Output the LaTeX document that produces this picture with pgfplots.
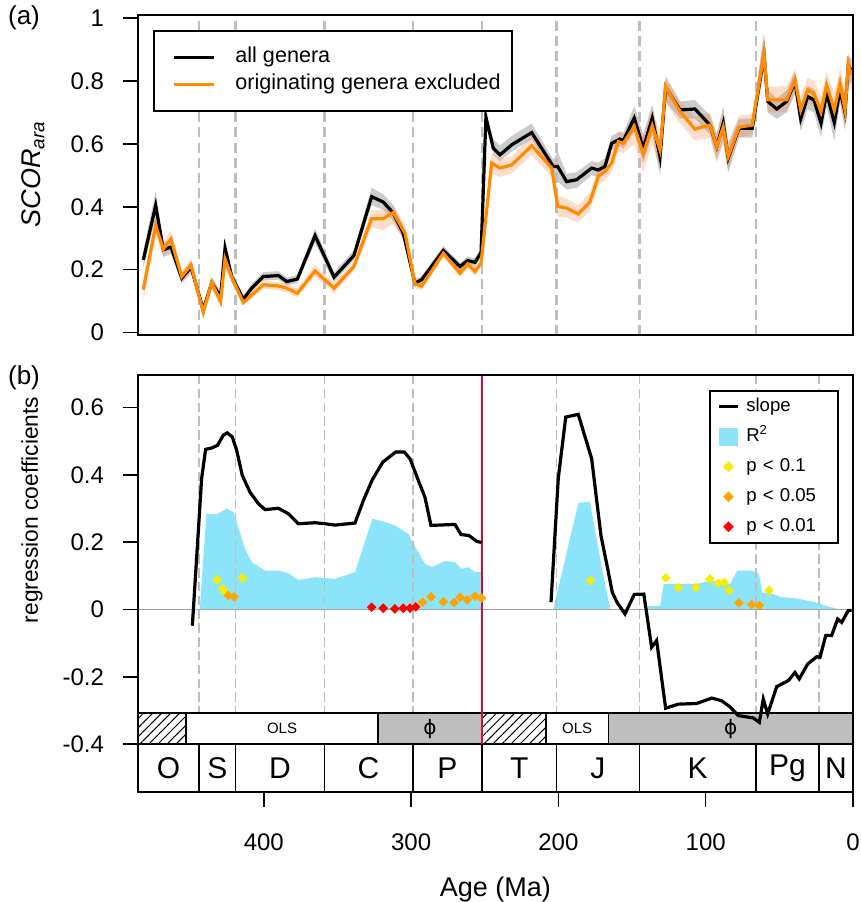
\documentclass[border=0pt]{standalone}
\usepackage{fontspec}
\setmainfont{Liberation Sans}
\newfontfamily\dejavu{DejaVu Sans}
\usepackage{pgfplots}
\pgfplotsset{compat=1.18}
\usepackage{pgfplotstable}
\usepgfplotslibrary{fillbetween}
\usetikzlibrary{patterns.meta}

\definecolor{orangeline}{RGB}{255,140,0}
\definecolor{salmonband}{RGB}{255,120,50}
\definecolor{r2col}{RGB}{139,228,250}
\definecolor{pyel}{RGB}{245,238,0}
\definecolor{porg}{RGB}{255,165,0}
\definecolor{pred}{RGB}{255,0,0}
\definecolor{dashgray}{RGB}{190,190,190}
\definecolor{phigray}{RGB}{190,190,190}
\definecolor{ptline}{RGB}{205,16,58}

\pgfplotstableread{
x y lo hi
481.8 0.231 0.205 0.260
473.4 0.404 0.365 0.450
468.2 0.263 0.240 0.285
463.0 0.272 0.250 0.295
455.7 0.173 0.155 0.190
449.4 0.208 0.190 0.225
441.1 0.072 0.055 0.090
435.4 0.157 0.140 0.175
429.3 0.115 0.095 0.135
426.3 0.268 0.235 0.300
421.8 0.178 0.160 0.195
413.9 0.106 0.095 0.118
408.2 0.141 0.128 0.155
400.3 0.178 0.165 0.192
390.1 0.181 0.168 0.195
384.4 0.162 0.150 0.175
377.2 0.170 0.157 0.183
365.2 0.308 0.285 0.330
352.3 0.176 0.160 0.192
338.8 0.245 0.230 0.262
326.8 0.432 0.405 0.460
318.9 0.415 0.390 0.440
312.1 0.380 0.355 0.405
305.3 0.316 0.295 0.338
297.4 0.157 0.145 0.170
292.8 0.168 0.155 0.180
278.1 0.261 0.248 0.275
266.8 0.210 0.198 0.222
261.6 0.229 0.215 0.242
256.6 0.223 0.210 0.236
252.5 0.255 0.240 0.270
249.2 0.685 0.665 0.700
244.2 0.586 0.565 0.615
239.7 0.565 0.545 0.595
231.7 0.597 0.575 0.625
218.1 0.636 0.615 0.665
203.5 0.528 0.505 0.550
200.5 0.528 0.480 0.575
194.4 0.480 0.455 0.505
187.6 0.486 0.460 0.510
177.4 0.523 0.500 0.545
172.9 0.517 0.495 0.540
168.4 0.528 0.505 0.555
163.8 0.602 0.580 0.625
158.2 0.615 0.592 0.640
155.9 0.610 0.585 0.635
148.5 0.682 0.640 0.720
142.4 0.586 0.540 0.630
136.3 0.682 0.630 0.725
131.0 0.558 0.500 0.600
127.2 0.780 0.735 0.810
117.4 0.708 0.680 0.735
107.3 0.711 0.680 0.740
97.1 0.660 0.630 0.690
92.5 0.591 0.550 0.630
88.1 0.666 0.610 0.720
84.7 0.555 0.510 0.600
77.4 0.650 0.620 0.680
68.4 0.650 0.620 0.680
60.4 0.883 0.840 0.950
57.9 0.735 0.700 0.770
51.8 0.711 0.680 0.745
45.0 0.735 0.700 0.770
39.4 0.798 0.760 0.830
35.5 0.680 0.640 0.720
30.8 0.750 0.710 0.785
26.5 0.740 0.700 0.775
21.7 0.666 0.620 0.710
17.9 0.761 0.720 0.800
12.7 0.668 0.610 0.720
8.8 0.772 0.730 0.810
5.4 0.700 0.640 0.760
3.2 0.851 0.800 0.880
0.9 0.830 0.790 0.870
}\allgen

\pgfplotstableread{
x y lo hi
481.8 0.136 0.100 0.170
473.4 0.340 0.310 0.370
468.2 0.265 0.240 0.290
463.0 0.297 0.270 0.325
455.7 0.178 0.160 0.195
449.4 0.215 0.195 0.235
441.1 0.064 0.050 0.080
435.4 0.159 0.140 0.178
429.3 0.099 0.080 0.120
426.3 0.233 0.200 0.265
421.8 0.176 0.160 0.192
413.9 0.095 0.085 0.105
400.3 0.152 0.140 0.165
390.1 0.148 0.135 0.160
384.4 0.141 0.128 0.155
377.2 0.125 0.112 0.140
365.2 0.196 0.178 0.215
352.3 0.141 0.125 0.158
338.8 0.210 0.195 0.225
326.8 0.362 0.335 0.390
318.9 0.362 0.325 0.390
312.1 0.382 0.345 0.405
304.1 0.316 0.290 0.340
297.4 0.155 0.140 0.170
292.8 0.148 0.135 0.162
278.1 0.252 0.238 0.266
266.8 0.189 0.175 0.203
261.6 0.218 0.204 0.232
256.6 0.194 0.180 0.208
252.5 0.221 0.205 0.237
245.3 0.539 0.505 0.570
239.7 0.523 0.495 0.550
231.7 0.533 0.505 0.560
218.1 0.594 0.565 0.625
204.5 0.523 0.495 0.550
200.5 0.401 0.370 0.435
194.4 0.396 0.365 0.425
186.5 0.377 0.350 0.405
178.6 0.415 0.385 0.445
172.9 0.496 0.470 0.525
168.4 0.512 0.485 0.540
163.8 0.539 0.510 0.570
159.3 0.607 0.575 0.635
155.9 0.602 0.570 0.630
148.5 0.655 0.600 0.700
142.4 0.568 0.510 0.620
136.3 0.657 0.600 0.715
131.0 0.581 0.520 0.630
127.2 0.782 0.730 0.820
117.4 0.703 0.665 0.735
107.3 0.647 0.610 0.685
97.1 0.660 0.620 0.700
92.5 0.591 0.540 0.635
88.1 0.653 0.600 0.710
84.7 0.560 0.510 0.605
77.4 0.653 0.620 0.690
68.4 0.660 0.630 0.695
60.4 0.888 0.830 0.950
57.9 0.740 0.700 0.780
45.0 0.740 0.700 0.785
39.4 0.804 0.760 0.840
35.5 0.708 0.660 0.750
30.8 0.772 0.730 0.810
26.5 0.761 0.720 0.800
21.7 0.703 0.650 0.750
17.9 0.788 0.740 0.830
12.7 0.708 0.650 0.760
8.8 0.793 0.740 0.840
5.4 0.708 0.650 0.770
3.2 0.854 0.800 0.890
0.9 0.819 0.770 0.860
}\origexc

\pgfplotstableread{
x y
448.5 -0.048
442.2 0.389
439.5 0.476
435.4 0.480
431.4 0.488
427.5 0.518
424.8 0.525
421.4 0.513
418.4 0.473
414.6 0.399
409.4 0.349
403.7 0.315
399.2 0.297
390.1 0.301
383.4 0.285
376.6 0.255
365.2 0.258
358.4 0.255
351.7 0.251
338.1 0.257
332.4 0.324
326.3 0.386
319.2 0.438
310.5 0.468
304.6 0.468
300.7 0.448
295.1 0.384
290.6 0.334
286.5 0.250
270.2 0.253
266.1 0.223
260.7 0.220
255.5 0.203
252.1 0.199
}\slopeA

\pgfplotstableread{
x y
205.0 0.022
200.1 0.389
195.0 0.572
186.5 0.580
177.4 0.448
171.1 0.220
167.2 0.136
163.4 0.051
160.0 0.020
154.8 -0.013
148.5 0.045
142.0 0.046
136.7 -0.112
133.3 -0.092
127.2 -0.293
118.6 -0.281
106.1 -0.279
95.9 -0.263
89.1 -0.271
83.5 -0.289
77.9 -0.315
67.7 -0.322
63.6 -0.335
60.9 -0.266
57.9 -0.310
51.8 -0.229
43.9 -0.211
39.4 -0.187
36.5 -0.206
30.8 -0.162
24.6 -0.140
22.4 -0.142
18.5 -0.077
14.5 -0.077
10.4 -0.028
7.7 -0.038
3.2 -0.003
0.9 -0.003
}\slopeB

\begin{document}
\begin{tikzpicture}[x=1pt,y=1pt]

% ---------------- panel (a)
\begin{axis}[
  at={(69pt,283.5pt)}, anchor=south west,
  scale only axis, width=357.5pt, height=160pt,
  x dir=reverse, xmin=0, xmax=485.4, ymin=-0.008, ymax=1.01,
  xtick=\empty,
  ytick={0,0.2,0.4,0.6,0.8,1}, yticklabels={0,0.2,0.4,0.6,0.8,1},
  ytick pos=left, tick align=outside, major tick length=7.5pt,
  tick style={black, line width=0.8pt}, axis line style={line width=0.8pt},
  yticklabel style={font=\fontsize{12}{14}\selectfont, xshift=-6pt},
  axis on top,
  legend cell align=left,
  legend image code/.code={\path (0pt,0pt); \draw[#1] (5.5pt,0pt) -- (25.5pt,0pt);},
  legend style={at={(axis description cs:0.021,0.953)}, anchor=north west,
    draw=black, line width=0.8pt, fill=white,
    inner xsep=4pt, inner ysep=6.5pt, row sep=0pt,
    font=\fontsize{10.8}{13}\selectfont,
    nodes={inner sep=1.5pt, text height=8pt, text depth=2.5pt},
    /tikz/every odd column/.append style={column sep=8.2pt}},
]
\addlegendimage{black, line width=1.6pt}
\addlegendentry{all genera}
\addlegendimage{orangeline, line width=1.6pt}
\addlegendentry{originating genera excluded}

\pgfplotsinvokeforeach{443.8,419.2,358.9,298.9,251.9,201.3,145,66}{
  \draw[dashgray, line width=1.2pt, dash pattern=on 5pt off 2.6pt] (axis cs:#1,-0.008) -- (axis cs:#1,1.01);
}

\addplot[name path=ahi, draw=none, forget plot] table[x=x,y=hi]{\allgen};
\addplot[name path=alo, draw=none, forget plot] table[x=x,y=lo]{\allgen};
\addplot[fill=black, fill opacity=0.2, draw=none, forget plot] fill between[of=ahi and alo];
\addplot[black, line width=1.6pt, forget plot] table[x=x,y=y]{\allgen};

\addplot[name path=ohi, draw=none, forget plot] table[x=x,y=hi]{\origexc};
\addplot[name path=olo, draw=none, forget plot] table[x=x,y=lo]{\origexc};
\addplot[fill=salmonband, fill opacity=0.25, draw=none, forget plot] fill between[of=ohi and olo];
\addplot[orangeline, line width=1.6pt, forget plot] table[x=x,y=y]{\origexc};
\end{axis}

% ---------------- panel (b)
\begin{axis}[
  at={(69pt,55pt)}, anchor=south west,
  scale only axis, width=357.5pt, height=208.5pt,
  x dir=reverse, xmin=0, xmax=485.4, ymin=-0.542, ymax=0.697,
  xtick={0,100,200,300,400}, xticklabels={0,100,200,300,400},
  ytick={-0.4,-0.2,0,0.2,0.4,0.6}, yticklabels={-0.4,-0.2,0,0.2,0.4,0.6},
  xtick pos=left, ytick pos=left, tick align=outside, major tick length=7.5pt,
  tick style={black, line width=0.8pt}, axis line style={line width=0.8pt},
  yticklabel style={font=\fontsize{12}{14}\selectfont, xshift=-6pt},
  xticklabel style={font=\fontsize{12}{14}\selectfont, yshift=-10pt},
  xlabel={Age (Ma)},
  xlabel style={font=\fontsize{13.5}{15}\selectfont, at={(axis description cs:0.5,0)}, anchor=center, yshift=-49pt},
  axis on top,
  legend cell align=left,
  legend style={at={(axis description cs:0.980,0.964)}, anchor=north east,
    draw=black, line width=0.8pt, fill=white,
    inner xsep=3.8pt, inner ysep=1.5pt, row sep=2pt,
    font=\fontsize{9.3}{11}\selectfont,
    nodes={inner sep=2pt, text height=7pt, text depth=2pt, text width=40pt, align=left},
    /tikz/every odd column/.append style={column sep=1.35pt}},
]
\addlegendimage{legend image code/.code={\draw[black, line width=1.6pt] (0pt,0pt) -- (9.5pt,0pt);}}
\addlegendentry{slope}
\addlegendimage{legend image code/.code={\fill[r2col] (0.6pt,-4.15pt) rectangle (8.9pt,4.15pt); \path (0pt,0pt) (9.5pt,0pt);}}
\addlegendentry{R\textsuperscript{2}}
\addlegendimage{legend image code/.code={\path (0pt,0pt) (9.5pt,0pt); \draw[pyel, fill=pyel] plot[mark=square*, mark size=1.5pt, mark options={rotate=45}] coordinates {(4.75pt,0pt)};}}
\addlegendentry{p < 0.1}
\addlegendimage{legend image code/.code={\path (0pt,0pt) (9.5pt,0pt); \draw[porg, fill=porg] plot[mark=square*, mark size=1.5pt, mark options={rotate=45}] coordinates {(4.75pt,0pt)};}}
\addlegendentry{p < 0.05}
\addlegendimage{legend image code/.code={\path (0pt,0pt) (9.5pt,0pt); \draw[pred, fill=pred] plot[mark=square*, mark size=1.5pt, mark options={rotate=45}] coordinates {(4.75pt,0pt)};}}
\addlegendentry{p < 0.01}

% R^2 areas
\addplot[fill=r2col, draw=none, forget plot] coordinates {
(443.5,0) (438.9,0.285) (432.0,0.283) (425.2,0.300) (420.7,0.290) (417.3,0.245)
(412.8,0.181) (408.2,0.141) (399.2,0.116) (390.1,0.116) (383.4,0.108) (376.6,0.088)
(365.2,0.096) (351.7,0.091) (338.1,0.111) (326.3,0.270) (317.7,0.260) (311.0,0.250)
(301.9,0.225) (298.5,0.196) (290.6,0.136) (286.0,0.126) (277.0,0.144) (270.2,0.141)
(265.6,0.121) (261.2,0.126) (256.6,0.111) (252.3,0.111) (252.3,0)};
\addplot[fill=r2col, draw=none, forget plot] coordinates {
(203.5,0) (186.5,0.316) (178.6,0.321) (170.6,0.126) (165.0,0.005) (165.0,0)};
\addplot[fill=r2col, draw=none, forget plot] coordinates {
(139.5,0) (139.5,0.010) (131.0,0.010) (128.5,0.076) (118.6,0.076) (106.1,0.076)
(95.9,0.086) (83.5,0.076) (78.5,0.116) (68.8,0.116) (63.8,0.106) (61.5,0.050)
(57.5,0.051) (48.4,0.037) (37.1,0.032) (25.8,0.022) (16.8,0.009) (10.0,0.002) (10.0,0)};

\pgfplotsinvokeforeach{443.8,419.2,358.9,298.9,201.3,145,66,23.03}{
  \draw[dashgray, line width=0.8pt, dash pattern=on 4.7pt off 2.2pt] (axis cs:#1,0.697) -- (axis cs:#1,-0.308);
}
\draw[gray!70, line width=0.6pt] (axis cs:485.4,0) -- (axis cs:0,0);

% time-scale rows
\fill[white] (axis cs:485.4,-0.308) rectangle (axis cs:0,-0.542);
\fill[pattern={Lines[angle=45,distance=3.2pt,line width=0.5pt]}] (axis cs:485.4,-0.308) rectangle (axis cs:452.8,-0.4);
\fill[pattern={Lines[angle=45,distance=3.2pt,line width=0.5pt]}] (axis cs:251.9,-0.308) rectangle (axis cs:208.4,-0.4);
\fill[phigray] (axis cs:322.5,-0.308) rectangle (axis cs:251.9,-0.4);
\fill[phigray] (axis cs:166.0,-0.308) rectangle (axis cs:0,-0.4);
\draw[line width=0.8pt] (axis cs:485.4,-0.308) -- (axis cs:0,-0.308);
\draw[line width=0.8pt] (axis cs:485.4,-0.4) -- (axis cs:0,-0.4);
\pgfplotsinvokeforeach{452.8,322.5,208.4,166.0}{
  \draw[line width=0.8pt] (axis cs:#1,-0.308) -- (axis cs:#1,-0.4);
}
\pgfplotsinvokeforeach{443.8,419.2,358.9,298.9,251.9,201.3,145,66,23.03}{
  \draw[line width=0.8pt] (axis cs:#1,-0.4) -- (axis cs:#1,-0.542);
}
\draw[ptline, line width=0.8pt] (axis cs:251.9,0.697) -- (axis cs:251.9,-0.4);

\node[font=\fontsize{7.5}{8}\selectfont] at (axis cs:387.6,-0.354) {OLS};
\node[font=\fontsize{7.5}{8}\selectfont] at (axis cs:187.2,-0.354) {OLS};
\node[font=\fontsize{10}{10}\dejavu] at (axis cs:287.2,-0.354) {ϕ};
\node[font=\fontsize{10}{10}\dejavu] at (axis cs:83.0,-0.354) {ϕ};

\node[font=\fontsize{15}{15}\selectfont] at (axis cs:464.6,-0.471) {O};
\node[font=\fontsize{15}{15}\selectfont] at (axis cs:431.5,-0.471) {S};
\node[font=\fontsize{15}{15}\selectfont] at (axis cs:389.0,-0.471) {D};
\node[font=\fontsize{15}{15}\selectfont] at (axis cs:328.9,-0.471) {C};
\node[font=\fontsize{15}{15}\selectfont] at (axis cs:275.4,-0.471) {P};
\node[font=\fontsize{15}{15}\selectfont] at (axis cs:226.6,-0.471) {T};
\node[font=\fontsize{15}{15}\selectfont] at (axis cs:173.2,-0.471) {J};
\node[font=\fontsize{15}{15}\selectfont] at (axis cs:105.5,-0.471) {K};
\node[font=\fontsize{15}{15}\selectfont] at (axis cs:44.5,-0.471) {Pg};
\node[font=\fontsize{15}{15}\selectfont] at (axis cs:11.5,-0.471) {N};

% slope
\addplot[black, line width=1.6pt, forget plot] table[x=x,y=y]{\slopeA};
\addplot[black, line width=1.6pt, forget plot] table[x=x,y=y]{\slopeB};

% p-value diamonds
\addplot[only marks, mark=square*, mark size=1.5pt, mark options={rotate=45, draw=pyel, fill=pyel}, forget plot] coordinates {
(431.7,0.089) (428.0,0.062) (426.5,0.054) (414.4,0.094) (178.2,0.086) (127.0,0.094)
(118.6,0.066) (106.6,0.066) (97.1,0.091) (91.4,0.078) (87.4,0.081) (84.2,0.057) (57.0,0.057)};
\addplot[only marks, mark=square*, mark size=1.5pt, mark options={rotate=45, draw=porg, fill=porg}, forget plot] coordinates {
(424.1,0.042) (420.2,0.038) (292.2,0.022) (286.5,0.038) (278.1,0.023) (270.8,0.021)
(266.8,0.037) (261.8,0.029) (256.6,0.040) (252.3,0.034) (77.4,0.020) (68.8,0.015) (63.6,0.012)};
\addplot[only marks, mark=square*, mark size=1.5pt, mark options={rotate=45, draw=pred, fill=pred}, forget plot] coordinates {
(326.8,0.007) (318.9,0.004) (311.0,0.002) (305.3,0.004) (300.7,0.004) (296.8,0.008)};
\end{axis}

% panel labels and y-axis titles
\node[font=\fontsize{13}{15}\selectfont] at (12,442) {(a)};
\node[font=\fontsize{13}{15}\selectfont] at (12,262) {(b)};
\node[font=\fontsize{13.5}{15}\selectfont, rotate=90] at (16.5,364) {\textit{SCOR}\textsubscript{\textit{ara}}};
\node[font=\fontsize{11.4}{13}\selectfont, rotate=90] at (16,196) {regression coefficients};

\pgfresetboundingbox
\useasboundingbox (0,0) rectangle (430.5,451);
\end{tikzpicture}
\end{document}
